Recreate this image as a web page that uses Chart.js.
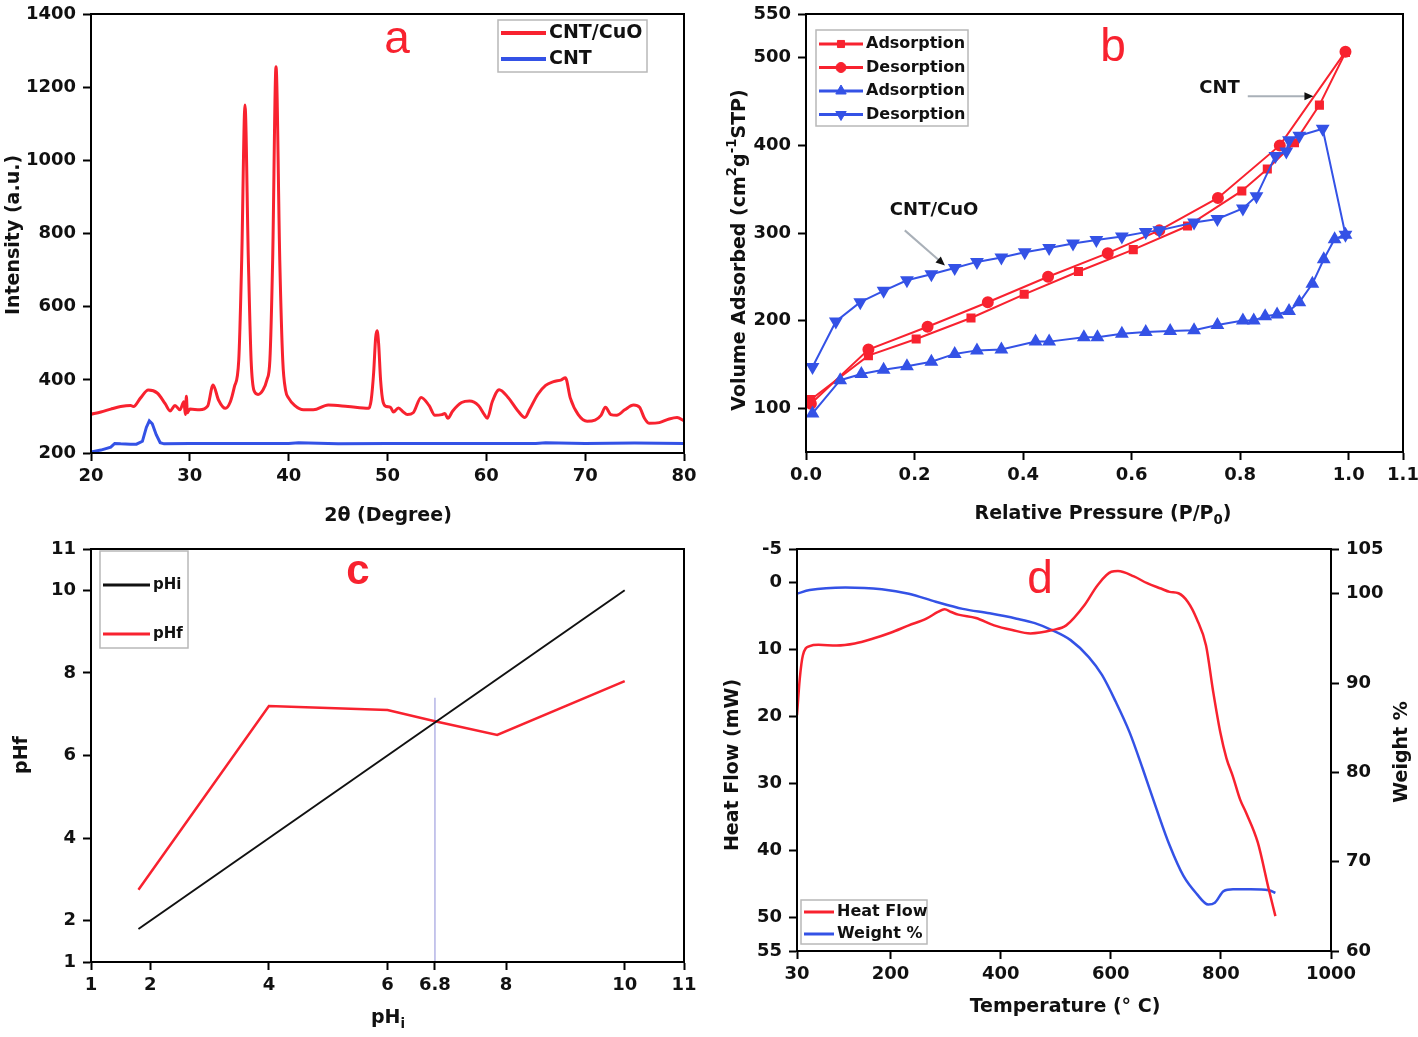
<!DOCTYPE html>
<html>
<head>
<meta charset="utf-8">
<script src="https://cdn.jsdelivr.net/npm/chart.js@4.4.0/dist/chart.umd.min.js"></script>
<style>
  body { margin: 0; background: #fff; }
  #wrap { position: relative; width: 1418px; height: 1037px; overflow: hidden; }
  canvas { position: absolute; }
</style>
</head>
<body>
<div id="wrap">
  <canvas id="ca" width="709" height="530" style="left:0;top:0"></canvas>
  <canvas id="cb" width="709" height="530" style="left:709px;top:0"></canvas>
  <canvas id="cc" width="709" height="507" style="left:0;top:530px"></canvas>
  <canvas id="cd" width="709" height="507" style="left:709px;top:530px"></canvas>
</div>
<script>
// ---- (a) XRD ----
const xrdCuoX = [20,21,22,23,24,24.3,25,25.8,26.7,27.5,28,28.5,29,29.4,29.55,29.65,29.75,30,31,31.8,32.35,32.9,33.6,34.1,34.5,34.95,35.25,35.58,35.92,36.2,36.5,36.9,37.4,37.8,38.1,38.38,38.72,39.1,39.4,39.7,40.0,40.6,41.5,42.5,44,46,48.1,48.35,48.6,48.8,48.95,49.1,49.3,49.55,49.9,50.3,50.6,51.1,51.6,52,52.6,53.4,54.2,54.8,55.5,55.8,56.1,56.6,57.5,58.3,59.2,59.8,60.1,60.6,61.3,62.2,63.2,63.9,64.4,65.2,66,66.8,67.6,68,68.5,69.3,70.2,71,71.6,72.05,72.6,73.2,74,74.9,75.5,76,76.5,77.5,78.5,79.3,80];
const xrdCuoY = [306,312,320,327,330,327,350,372,364,335,315,330,318,340,305,355,310,320,318,328,386,345,322,340,380,454,730,1151,730,454,370,360,372,400,454,727,1256,727,454,370,350,330,318,318,331,327,322,345,420,515,534,500,400,340,327,325,312,323,312,305,310,352,330,303,305,308,295,315,338,342,330,305,295,340,373,352,315,297,320,360,385,395,400,406,350,305,287,290,303,325,305,303,318,331,325,295,281,283,293,297,288];
const xrdCntX = [20,21,22,22.4,23,24,24.6,25.2,25.6,25.9,26.2,26.6,27,27.4,30,35,40,41,45,50,55,60,65,66,70,75,80];
const xrdCntY = [203,208,216,226,225,224,224,232,270,288,280,250,228,225,226,226,226,228,225,226,226,226,226,228,226,227,226];
const xrdXTicks = [20,30,40,50,60,70,80];
const xrdYTicks = [200,400,600,800,1000,1200,1400];

// ---- (b) N2 isotherms ----
const cntAdsX = [0.009,0.115,0.203,0.304,0.402,0.502,0.603,0.703,0.803,0.85,0.9,0.946,0.994];
const cntAdsY = [110,160,179,203,230,256,281,308,348,373,403,446,506];
const cntDesX = [0.994,0.873,0.759,0.651,0.556,0.446,0.335,0.224,0.115,0.009];
const cntDesY = [507,400,340,303,277,250,221,193,167,105];
const cuoAdsX = [0.012,0.063,0.102,0.143,0.186,0.231,0.274,0.315,0.36,0.423,0.448,0.512,0.537,0.582,0.626,0.671,0.715,0.758,0.805,0.825,0.846,0.868,0.89,0.909,0.933,0.954,0.974,0.994];
const cuoAdsY = [94,132,139,144,148,153,162,166,167,176,176,181,181,185,187,188,189,195,200,200,205,207,211,221,242,270,293,298];
const cuoDesX = [0.994,0.952,0.909,0.89,0.885,0.865,0.83,0.805,0.758,0.715,0.651,0.626,0.582,0.535,0.492,0.448,0.403,0.36,0.315,0.274,0.231,0.186,0.143,0.1,0.055,0.012];
const cuoDesY = [298,419,411,406,393,388,342,328,316,312,303,301,296,292,288,283,278,272,267,260,253,246,234,221,199,147];
const betXTicks = [0,0.2,0.4,0.6,0.8,1.0,1.1];
const betYTicks = [100,200,300,400,500,550];

// ---- (c) pH drift ----
const phiX = [1.8, 10];
const phiY = [1.8, 10];
const phfX = [1.8, 4, 6, 6.8, 7.85, 10];
const phfY = [2.75, 7.2, 7.1, 6.83, 6.5, 7.8];
const pzcX = [6.8, 6.8];
const pzcY = [1, 7.4];
const phXTicks = [1,2,4,6,6.8,8,10,11];
const phYTicks = [1,2,4,6,8,10,11];

// ---- (d) TGA / DSC ----
const hfX = [30,35,40.6,53,69,102,135,167,200,233,265,286,298,310,323,355,388,421,454,494,519,552,576,601,613,642,666,691,707,723,740,756,773,786,799,810,822,835,846,867,887,899];
const hfY = [19.8,14.4,10.9,9.5,9.3,9.4,9.1,8.4,7.5,6.4,5.4,4.4,4.0,4.4,4.8,5.3,6.4,7.1,7.6,7.1,6.4,3.4,0.4,-1.6,-1.7,-0.9,0.1,0.9,1.4,1.6,2.9,5.4,9.4,16.3,22.4,26.2,29.0,32.4,34.4,38.8,45.8,49.8];
const wtX = [30,53,118,184,233,282,331,380,429,462,494,527,560,584,609,634,658,683,707,732,756,777,789,805,822,854,887,899];
const wtY = [100.0,100.4,100.7,100.5,100.0,99.1,98.3,97.8,97.2,96.7,95.9,94.8,92.9,90.9,87.9,84.5,80.4,75.9,71.8,68.4,66.4,65.2,65.4,66.7,66.9,66.9,66.8,66.5];
const tXTicks = [30,200,400,600,800,1000];
const hfTicks = [-5,0,10,20,30,40,50,55];
const wtTicks = [60,70,80,90,100,105];

const FONT = "'DejaVu Sans', sans-serif";
const RED = '#f8222f';
const BLUE = '#3452e6';

Chart.defaults.font.family = FONT;
Chart.defaults.animation = false;

const pts = (xs, ys) => xs.map((x, i) => ({ x, y: ys[i] }));

// box around plot area
const frame = {
  id: 'frame',
  afterDatasetsDraw(chart) {
    const { ctx, chartArea: a } = chart;
    ctx.save();
    ctx.strokeStyle = '#000';
    ctx.lineWidth = 2;
    ctx.strokeRect(a.left, a.top, a.right - a.left, a.bottom - a.top);
    ctx.restore();
  }
};

// free text (axis titles, panel letters), with sup/sub parts
const texts = {
  id: 'texts',
  afterDraw(chart, args, o) {
    const ctx = chart.ctx;
    (o.items || []).forEach(t => {
      const parts = t.parts || [[t.text]];
      const size = t.size || 19, weight = t.weight || 'bold', fam = t.family || FONT;
      let x = t.x, y = t.y;
      if (t.data) {
        x = chart.scales.x.getPixelForValue(t.x);
        y = chart.scales.y.getPixelForValue(t.y);
      }
      ctx.save();
      ctx.translate(x, y);
      if (t.rot) ctx.rotate(t.rot * Math.PI / 180);
      ctx.fillStyle = t.color || '#111';
      ctx.textBaseline = 'middle';
      ctx.textAlign = 'left';
      let w = 0;
      parts.forEach(p => {
        ctx.font = `${weight} ${p[1] ? size * 0.7 : size}px ${fam}`;
        w += ctx.measureText(p[0]).width;
      });
      let cx = -w / 2;
      parts.forEach(p => {
        ctx.font = `${weight} ${p[1] ? size * 0.7 : size}px ${fam}`;
        const dy = p[1] === 'sup' ? -size * 0.38 : p[1] === 'sub' ? size * 0.32 : 0;
        ctx.fillText(p[0], cx, dy);
        cx += ctx.measureText(p[0]).width;
      });
      ctx.restore();
    });
  }
};

// legend drawn inside the plot with a thin box
const boxLegend = {
  id: 'boxLegend',
  afterDraw(chart, args, o) {
    if (!o.items) return;
    const ctx = chart.ctx;
    ctx.save();
    ctx.strokeStyle = '#b8b8b8';
    ctx.lineWidth = 1.5;
    ctx.strokeRect(o.x, o.y, o.w, o.h);
    o.items.forEach((it, i) => {
      const ds = chart.data.datasets[it.ds];
      const y = o.y + o.first + i * o.gap;
      ctx.strokeStyle = ds.borderColor;
      ctx.lineWidth = o.lw || 3;
      ctx.beginPath();
      ctx.moveTo(o.x + 3, y);
      ctx.lineTo(o.x + 3 + o.line, y);
      ctx.stroke();
      if (ds.pointRadius) {
        ctx.fillStyle = ds.borderColor;
        ctx.lineWidth = 1;
        Chart.helpers.drawPoint(ctx, { pointStyle: ds.pointStyle, radius: ds.pointRadius, rotation: ds.pointRotation || 0, borderWidth: 1 }, o.x + 3 + o.line / 2, y);
      }
      ctx.fillStyle = '#111';
      ctx.font = o.font;
      ctx.textAlign = 'left';
      ctx.textBaseline = 'middle';
      ctx.fillText(it.label, o.x + 6 + o.line, y);
    });
    ctx.restore();
  }
};

// arrows in data units
const arrows = {
  id: 'arrows',
  afterDatasetsDraw(chart, args, o) {
    if (!o.items) return;
    const { ctx, scales: { x, y } } = chart;
    o.items.forEach(a => {
      const x1 = x.getPixelForValue(a.from[0]), y1 = y.getPixelForValue(a.from[1]);
      const x2 = x.getPixelForValue(a.to[0]), y2 = y.getPixelForValue(a.to[1]);
      const ang = Math.atan2(y2 - y1, x2 - x1);
      ctx.save();
      ctx.strokeStyle = '#a9b0b8';
      ctx.lineWidth = 2;
      ctx.beginPath();
      ctx.moveTo(x1, y1);
      ctx.lineTo(x2 - 6 * Math.cos(ang), y2 - 6 * Math.sin(ang));
      ctx.stroke();
      ctx.translate(x2, y2);
      ctx.rotate(ang);
      ctx.fillStyle = '#111';
      ctx.beginPath();
      ctx.moveTo(0, 0);
      ctx.lineTo(-9, -4);
      ctx.lineTo(-9, 4);
      ctx.closePath();
      ctx.fill();
      ctx.restore();
    });
  }
};

Chart.register(frame, texts, boxLegend, arrows);

const tickFont = { family: FONT, size: 18, weight: 'bold' };

function axis(pos, min, max, ticks, size, extra, fmt) {
  const horiz = pos === 'bottom';
  return Object.assign({
    type: 'linear',
    position: pos,
    min: min,
    max: max,
    border: { display: true, color: '#000', width: 2 },
    grid: { drawOnChartArea: false, drawTicks: true, tickLength: 8, tickColor: '#000', tickWidth: 2 },
    ticks: { color: '#111', font: tickFont, padding: horiz ? 5 : 7, autoSkip: false, maxRotation: 0, callback: fmt || (v => String(v)) },
    afterBuildTicks: s => { s.ticks = ticks.map(v => ({ value: v })); },
    afterFit: s => {
      if (horiz) s.height = size; else s.width = size;
      // keep the plot area where the layout padding puts it
      s.paddingTop = s.paddingBottom = s.paddingLeft = s.paddingRight = 0;
    }
  }, extra || {});
}

const basePlugins = { legend: { display: false }, tooltip: { enabled: false } };

// (a)
new Chart(document.getElementById('ca'), {
  type: 'scatter',
  data: {
    datasets: [
      { data: pts(xrdCuoX, xrdCuoY), showLine: true, borderColor: RED, borderWidth: 3, pointRadius: 0, cubicInterpolationMode: 'monotone' },
      { data: pts(xrdCntX, xrdCntY), showLine: true, borderColor: BLUE, borderWidth: 3, pointRadius: 0 }
    ]
  },
  options: {
    responsive: false, devicePixelRatio: 1,
    layout: { padding: { top: 14, right: 25, left: 0, bottom: 0 } },
    scales: {
      x: axis('bottom', 20, 80, xrdXTicks, 77),
      y: axis('left', 200, 1400, xrdYTicks, 91)
    },
    plugins: Object.assign({}, basePlugins, {
      texts: { items: [
        { text: 'Intensity (a.u.)', x: 14, y: 235, rot: -90 },
        { text: '2θ (Degree)', x: 388, y: 516 },
        { text: 'a', x: 397, y: 40, size: 46, weight: 'normal', family: "'Liberation Sans', sans-serif", color: RED }
      ] },
      boxLegend: { x: 498, y: 20, w: 149, h: 52, first: 13, gap: 26, line: 45, lw: 4, font: `bold 19px ${FONT}`,
        items: [{ ds: 0, label: 'CNT/CuO' }, { ds: 1, label: 'CNT' }] }
    })
  }
});

// (b)
new Chart(document.getElementById('cb'), {
  type: 'scatter',
  data: {
    datasets: [
      { data: pts(cuoDesX, cuoDesY), showLine: true, borderColor: BLUE, backgroundColor: BLUE, borderWidth: 2, pointStyle: 'triangle', pointRotation: 180, pointRadius: 6 },
      { data: pts(cuoAdsX, cuoAdsY), showLine: true, borderColor: BLUE, backgroundColor: BLUE, borderWidth: 2, pointStyle: 'triangle', pointRadius: 6 },
      { data: pts(cntDesX, cntDesY), showLine: true, borderColor: RED, backgroundColor: RED, borderWidth: 2, pointStyle: 'circle', pointRadius: 5 },
      { data: pts(cntAdsX, cntAdsY), showLine: true, borderColor: RED, backgroundColor: RED, borderWidth: 2, pointStyle: 'rect', pointRadius: 5 }
    ]
  },
  options: {
    responsive: false, devicePixelRatio: 1,
    layout: { padding: { top: 14, right: 15, left: 0, bottom: 0 } },
    scales: {
      x: axis('bottom', 0, 1.1, betXTicks, 78, null, v => v.toFixed(1)),
      y: axis('left', 50, 550, betYTicks, 97)
    },
    plugins: Object.assign({}, basePlugins, {
      texts: { items: [
        { parts: [['Volume Adsorbed (cm'], ['2', 'sup'], ['g'], ['-1', 'sup'], ['STP)']], x: 31, y: 250, rot: -90 },
        { parts: [['Relative Pressure (P/P'], ['0', 'sub'], [')']], x: 394, y: 514 },
        { text: 'b', x: 404, y: 48, size: 46, weight: 'normal', family: "'Liberation Sans', sans-serif", color: RED },
        { text: 'CNT', x: 0.762, y: 465, data: true, size: 18 },
        { text: 'CNT/CuO', x: 0.236, y: 326, data: true, size: 18 }
      ] },
      arrows: { items: [
        { from: [0.814, 456], to: [0.935, 456] },
        { from: [0.182, 303], to: [0.256, 263] }
      ] },
      boxLegend: { x: 107, y: 30, w: 152, h: 96, first: 14, gap: 23.5, line: 44, font: `bold 16px ${FONT}`,
        items: [{ ds: 3, label: 'Adsorption' }, { ds: 2, label: 'Desorption' }, { ds: 1, label: 'Adsorption' }, { ds: 0, label: 'Desorption' }] }
    })
  }
});

// (c)
new Chart(document.getElementById('cc'), {
  type: 'scatter',
  data: {
    datasets: [
      { data: pts(phiX, phiY), showLine: true, borderColor: '#111', borderWidth: 2, pointRadius: 0 },
      { data: pts(phfX, phfY), showLine: true, borderColor: RED, borderWidth: 2.5, pointRadius: 0 },
      { data: pts(pzcX, pzcY), showLine: true, borderColor: '#b4b4e6', borderWidth: 1.5, pointRadius: 0 }
    ]
  },
  options: {
    responsive: false, devicePixelRatio: 1,
    layout: { padding: { top: 19, right: 25, left: 0, bottom: 0 } },
    scales: {
      x: axis('bottom', 1, 11, phXTicks, 75),
      y: axis('left', 1, 11, phYTicks, 91)
    },
    plugins: Object.assign({}, basePlugins, {
      texts: { items: [
        { text: 'pHf', x: 22, y: 225, rot: -90 },
        { parts: [['pH'], ['i', 'sub']], x: 388, y: 488 },
        { text: 'c', x: 358, y: 42, size: 42, weight: 'bold', family: "'Liberation Sans', sans-serif", color: RED }
      ] },
      boxLegend: { x: 100, y: 21, w: 88, h: 97, first: 34, gap: 49, line: 47, font: `bold 15px ${FONT}`,
        items: [{ ds: 0, label: 'pHi' }, { ds: 1, label: 'pHf' }] }
    })
  }
});

// (d)
new Chart(document.getElementById('cd'), {
  type: 'scatter',
  data: {
    datasets: [
      { data: pts(hfX, hfY), yAxisID: 'y', showLine: true, borderColor: RED, borderWidth: 2.5, pointRadius: 0, cubicInterpolationMode: 'monotone' },
      { data: pts(wtX, wtY), yAxisID: 'y1', showLine: true, borderColor: BLUE, borderWidth: 2.5, pointRadius: 0, cubicInterpolationMode: 'monotone' }
    ]
  },
  options: {
    responsive: false, devicePixelRatio: 1,
    layout: { padding: { top: 19, right: 0, left: 0, bottom: 0 } },
    scales: {
      x: axis('bottom', 30, 1000, tXTicks, 86),
      y: axis('left', -5, 55, hfTicks, 88, { reverse: true }),
      y1: axis('right', 60, 105, wtTicks, 87)
    },
    plugins: Object.assign({}, basePlugins, {
      texts: { items: [
        { text: 'Heat Flow (mW)', x: 24, y: 235, rot: -90 },
        { text: 'Weight %', x: 693, y: 222, rot: -90 },
        { text: 'Temperature (° C)', x: 356, y: 477 },
        { text: 'd', x: 331, y: 50, size: 46, weight: 'normal', family: "'Liberation Sans', sans-serif", color: RED }
      ] },
      boxLegend: { x: 92, y: 370, w: 126, h: 44, first: 12, gap: 22, line: 30, font: `bold 16px ${FONT}`,
        items: [{ ds: 0, label: 'Heat Flow' }, { ds: 1, label: 'Weight %' }] }
    })
  }
});
</script>
</body>
</html>
